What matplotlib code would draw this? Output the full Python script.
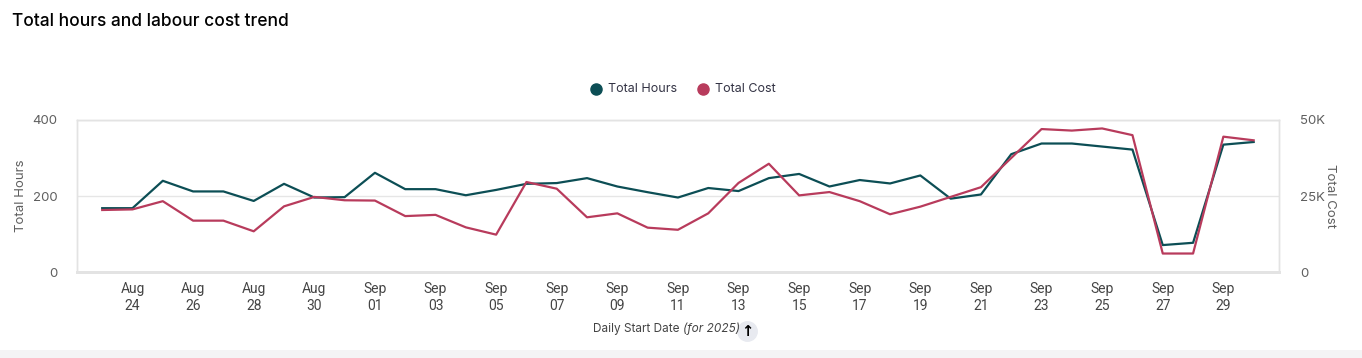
import pandas as pd
import matplotlib
matplotlib.use("Agg")
import matplotlib.pyplot as plt
import matplotlib.dates as mdates
from matplotlib.ticker import FuncFormatter, FixedLocator
from matplotlib.patches import Rectangle

plt.rcParams['font.family'] = ['Inter', 'DejaVu Sans']

# daily data, 2025-08-23 .. 2025-09-30
dates = pd.date_range("2025-08-23", "2025-09-30", freq="D")
total_hours = [168, 168, 240, 212, 212, 187, 232, 196, 197, 261,
               218, 218, 202, 216, 232, 234, 247, 225, 210, 196,
               221, 213, 247, 258, 225, 242, 233, 254, 193, 204,
               310, 338, 338, 330, 322, 71, 77, 335, 342]
total_cost = [20.4, 20.6, 23.3, 16.9, 16.9, 13.4, 21.6, 24.7, 23.6, 23.5,
              18.4, 18.8, 14.7, 12.3, 29.6, 27.4, 18.0, 19.3, 14.6, 13.9,
              19.3, 29.3, 35.6, 25.2, 26.3, 23.3, 19.0, 21.5, 24.7, 27.9,
              37.5, 47.0, 46.5, 47.2, 45.0, 6.1, 6.1, 44.5, 43.3]  # thousands

hours_color = '#0c4e55'
cost_color = '#b83b5c'
grey = '#5f5f5f'
frame_color = '#e3e3e3'

fig = plt.figure(figsize=(13.62, 3.58), dpi=100)
ax = fig.add_axes([0.0565, 0.240, 0.8825, 0.425])
ax2 = ax.twinx()

ax.plot(dates, total_hours, color=hours_color, lw=1.6, zorder=3)
ax2.plot(dates, [c * 1000 for c in total_cost], color=cost_color, lw=1.6, zorder=3)

ax.set_ylim(0, 400)
ax.set_yticks([0, 200, 400])
ax2.set_ylim(0, 50000)
ax2.set_yticks([0, 25000, 50000])
ax2.yaxis.set_major_formatter(FuncFormatter(lambda v, p: '0' if v == 0 else f'{int(v/1000)}K'))

pad = pd.Timedelta(hours=20)
ax.set_xlim(dates[0] - pad, dates[-1] + pad)
ax.xaxis.set_major_locator(FixedLocator(mdates.date2num(dates[1::2])))
ax.xaxis.set_major_formatter(mdates.DateFormatter('%b\n%d'))

ax.grid(axis='y', color='#e6e6e6', lw=1, zorder=0)
ax.set_axisbelow(True)

for a in (ax, ax2):
    for s in a.spines.values():
        s.set_color(frame_color)
        s.set_linewidth(1)
    a.spines['bottom'].set_linewidth(2)
    a.tick_params(length=0, labelsize=9.5, labelcolor=grey)
ax.tick_params(axis='x', pad=7, labelcolor='#444444')
ax.tick_params(axis='y', pad=14)
ax2.tick_params(axis='y', pad=15)
for lbl in ax.get_xticklabels():
    lbl.set_linespacing(1.3)
    lbl.set_family(['Liberation Sans Narrow', 'Roboto', 'DejaVu Sans'])
    lbl.set_fontsize(10)

ax.set_ylabel('Total Hours', fontsize=9.5, color=grey, labelpad=4)
ax2.set_ylabel('Total Cost', fontsize=9.5, color=grey, rotation=270, labelpad=8)

# x axis title with italic part and sort arrow
ty = 1 - 329 / 358
fig.text(683 / 1362, ty, 'Daily Start Date ', ha='right', va='center', fontsize=8.5, color='#444444')
fig.text(683 / 1362, ty, '(for 2025)', ha='left', va='center', fontsize=8.5, color='#444444', style='italic')
fig.lines.append(plt.Line2D([747 / 1362], [1 - 331 / 358], marker='o', ms=14, color='#e8eaf0',
                            transform=fig.transFigure, ls='none'))
fig.text(747 / 1362, 1 - 331 / 358, '\u2191', ha='center', va='center', fontsize=10.5,
         fontweight='bold', color='black', family=['DejaVu Sans'])

# legend
ly = 1 - 89 / 358
fig.lines.append(plt.Line2D([596 / 1362], [ly], marker='o', ms=8, color=hours_color,
                            transform=fig.transFigure, ls='none'))
fig.text(608 / 1362, ly, 'Total Hours', ha='left', va='center', fontsize=9, color='#333344')
fig.lines.append(plt.Line2D([703 / 1362], [ly], marker='o', ms=8, color=cost_color,
                            transform=fig.transFigure, ls='none'))
fig.text(715 / 1362, ly, 'Total Cost', ha='left', va='center', fontsize=9, color='#333344')

fig.text(12 / 1362, 1 - 22 / 358, 'Total hours and labour cost trend', ha='left', va='center',
         fontsize=12.5, fontweight='medium', color='black')

# light strip at bottom
fig.patches.append(Rectangle((0, 0), 1, 8 / 358, transform=fig.transFigure,
                             facecolor='#f4f4f5', edgecolor='none'))

fig.savefig('out.png', dpi=100)
